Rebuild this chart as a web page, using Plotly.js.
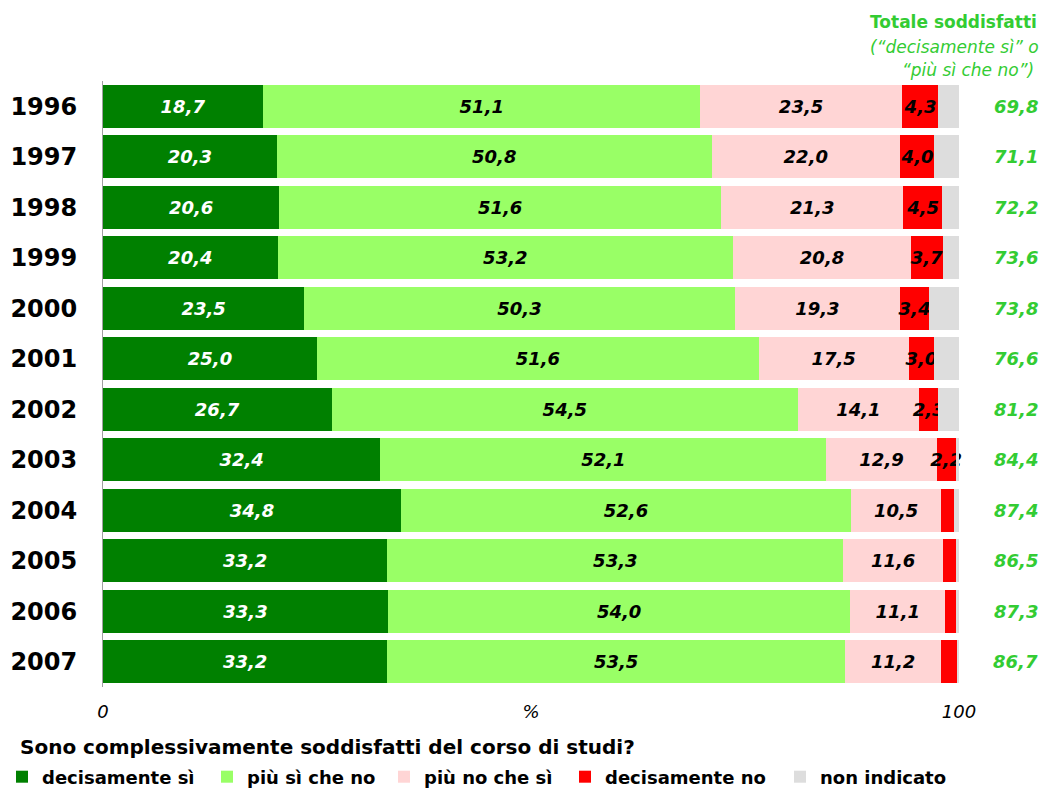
<!DOCTYPE html>
<html>
<head>
<meta charset="utf-8">
<script src="https://cdn.plot.ly/plotly-3.0.1.min.js"></script>
<style>
  html, body { margin: 0; padding: 0; background: #fff; }
  #chart { width: 1045px; height: 790px; }
</style>
</head>
<body>
<div id="chart"></div>
<script>
const years = ['1996', '1997', '1998', '1999', '2000', '2001', '2002', '2003', '2004', '2005', '2006', '2007'];
const decisamenteSi = [18.7, 20.3, 20.6, 20.4, 23.5, 25.0, 26.7, 32.4, 34.8, 33.2, 33.3, 33.2];
const piuSiCheNo = [51.1, 50.8, 51.6, 53.2, 50.3, 51.6, 54.5, 52.1, 52.6, 53.3, 54.0, 53.5];
const piuNoCheSi = [23.5, 22.0, 21.3, 20.8, 19.3, 17.5, 14.1, 12.9, 10.5, 11.6, 11.1, 11.2];
const decisamenteNo = [4.3, 4.0, 4.5, 3.7, 3.4, 3.0, 2.3, 2.2, 1.5, 1.5, 1.3, 1.9];
const nonIndicato = [2.4, 2.9, 2.0, 1.9, 3.5, 2.9, 2.4, 0.4, 0.6, 0.4, 0.3, 0.2];
// last four years have no label on "decisamente no"
const noLabelFrom = 8;
const totale = [69.8, 71.1, 72.2, 73.6, 73.8, 76.6, 81.2, 84.4, 87.4, 86.5, 87.3, 86.7];

const fmt = (v) => v.toFixed(1).replace('.', ',');
const labelFont = {family: 'DejaVu Sans', size: 18, color: '#000'};
const green = '#33CC33';

// plot area in pixels, used to place the paper-referenced texts
const L = 103, R = 962, T = 81, B = 687;
const px = (x) => (x - L) / (R - L);
const py = (y) => (B - y) / (B - T);

const barTrace = (name, values, color, textColor, labels, legendwidth) => ({
  type: 'bar',
  orientation: 'h',
  name: name,
  x: values,
  y: years,
  text: labels,
  textposition: labels ? 'inside' : 'none',
  insidetextanchor: 'middle',
  textangle: 0,
  constraintext: 'none',
  texttemplate: labels ? '<b><i>%{text}</i></b>' : undefined,
  insidetextfont: Object.assign({}, labelFont, {color: textColor}),
  marker: {color: color, line: {width: 0}},
  legendwidth: legendwidth,
  hoverinfo: 'skip',
});

const traces = [
  barTrace('decisamente sì', decisamenteSi, '#008000', '#fff', decisamenteSi.map(fmt), 160),
  barTrace('più sì che no', piuSiCheNo, '#99FF66', '#000', piuSiCheNo.map(fmt), 132),
  barTrace('più no che sì', piuNoCheSi, '#FFD5D5', '#000', piuNoCheSi.map(fmt), 136),
  barTrace('decisamente no', decisamenteNo, '#FF0000', '#000',
    decisamenteNo.map((v, i) => (i < noLabelFrom ? fmt(v) : '')), 170),
  barTrace('non indicato', nonIndicato, '#DDDDDD', '#000', null, 128),
];

// totals column on the right, one per year (category index on the y axis)
const annotations = totale.map((v, i) => ({
  xref: 'paper',
  x: px(1040),
  xanchor: 'right',
  y: i,
  yref: 'y',
  text: '<b><i>' + fmt(v) + '</i></b>',
  showarrow: false,
  font: {family: 'DejaVu Sans', size: 18, color: green},
}));

const note = (text, xpx, ypx, anchor, size, color) => ({
  xref: 'paper', yref: 'paper', x: px(xpx), y: py(ypx),
  xanchor: anchor, yanchor: 'middle', showarrow: false,
  text: text,
  font: {family: 'DejaVu Sans', size: size, color: color},
});

annotations.push(
  note('<b>Totale soddisfatti</b>', 1039, 22, 'right', 17, green),
  note('<i>(“decisamente sì” o</i>', 1041, 47, 'right', 17, green),
  note('<i>“più sì che no”)</i>', 1036, 70, 'right', 17, green),
  note('<b>Sono complessivamente soddisfatti del corso di studi?</b>', 18, 747, 'left', 20, '#000')
);

const layout = {
  width: 1045,
  height: 790,
  margin: {l: L, r: 1045 - R, t: T, b: 790 - B, autoexpand: false},
  barmode: 'stack',
  bargap: 0.15,
  paper_bgcolor: '#fff',
  plot_bgcolor: '#fff',
  font: {family: 'DejaVu Sans', color: '#000'},
  showlegend: true,
  legend: {
    orientation: 'h',
    x: px(2),
    y: py(777),
    xanchor: 'left',
    yanchor: 'middle',
    traceorder: 'normal',
    font: {family: 'DejaVu Sans', size: 18, color: '#000', weight: 'bold'},
  },
  xaxis: {
    range: [0, 100.35],
    tickvals: [0, 50, 100],
    ticktext: ['<i>0</i>', '<i>%</i>', '<i>100</i>'],
    tickfont: {family: 'DejaVu Sans', size: 18, color: '#000'},
    ticks: '',
    showgrid: false,
    zeroline: false,
    showline: false,
    automargin: false,
    ticklabelstandoff: 12,
    fixedrange: true,
  },
  yaxis: {
    type: 'category',
    range: [11.5, -0.5],
    autorange: false,
    tickfont: {family: 'DejaVu Sans', size: 24, color: '#000', weight: 'bold'},
    ticks: '',
    showgrid: false,
    zeroline: false,
    showline: true,
    linecolor: '#A0A0A0',
    linewidth: 1,
    automargin: false,
    ticklabelstandoff: 20,
    fixedrange: true,
  },
  annotations: annotations,
};

Plotly.newPlot('chart', traces, layout, {displayModeBar: false, staticPlot: true});
</script>
</body>
</html>
